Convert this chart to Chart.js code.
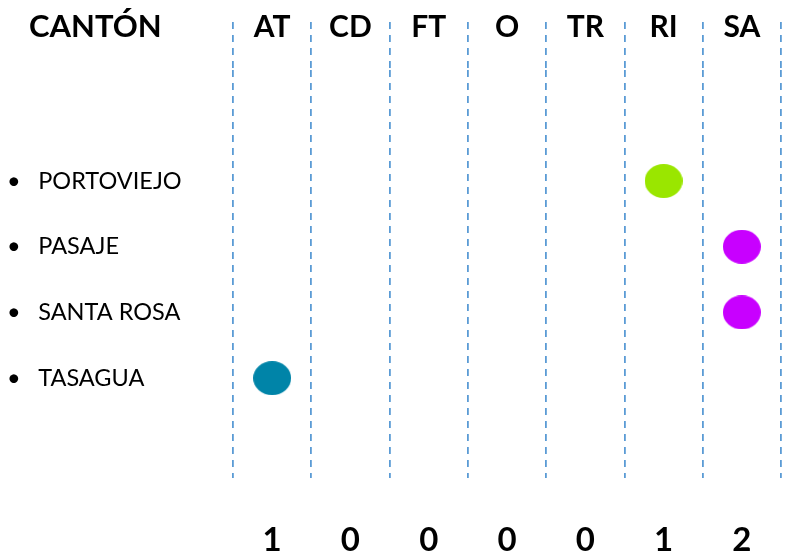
<!DOCTYPE html>
<html lang="es">
<head>
  <meta charset="UTF-8">
  <title>Cantones</title>
  <script src="https://cdn.jsdelivr.net/npm/chart.js"></script>
  <style>
    body { margin: 0; background: #fff; }
    canvas { display: block; }
  </style>
</head>
<body>
  <canvas id="grafico" width="785" height="553"></canvas>

  <script>
    // datos
    const titulo = 'CANTÓN';
    const columnas = ['AT', 'CD', 'FT', 'O', 'TR', 'RI', 'SA'];
    const totales = [1, 0, 0, 0, 0, 1, 2];
    const cantones = ['PORTOVIEJO', 'PASAJE', 'SANTA ROSA', 'TASAGUA'];
    const columnaCanton = ['RI', 'SA', 'SA', 'AT'];
    const colorCanton = ['#9ae600', '#c800ff', '#c800ff', '#0084a8'];

    const azul = '#5b9bd5';
    const fuente = 'Lato, "Open Sans", sans-serif';

    // punto ovalado como en el original
    function ovalo(color) {
      const c = document.createElement('canvas');
      c.width = 38; c.height = 34;
      const g = c.getContext('2d');
      g.fillStyle = color;
      g.beginPath();
      g.ellipse(19, 17, 19, 17, 0, 0, Math.PI * 2);
      g.fill();
      return c;
    }
    const ovalos = colorCanton.map(ovalo);

    const cabecera = {
      id: 'cabecera',
      afterDraw(chart) {
        const x = chart.scales.x;
        const o = x.options;
        const y = x.bottom - o.grid.tickLength - o.ticks.padding - o.ticks.font.size * 1.2 / 2;
        const ctx = chart.ctx;
        ctx.save();
        ctx.font = 'bold 31px ' + fuente;
        ctx.fillStyle = '#000';
        ctx.textBaseline = 'middle';
        ctx.fillText(titulo, 29, y);
        ctx.restore();
      }
    };

    const sinRelleno = s => { s.paddingLeft = 0; s.paddingRight = 0; };

    const ctx = document.getElementById('grafico').getContext('2d');
    new Chart(ctx, {
      type: 'scatter',
      data: {
        labels: columnas,
        datasets: [{
          data: cantones.map((c, i) => ({ x: columnaCanton[i], y: i })),
          pointStyle: c => ovalos[c.dataIndex],
          backgroundColor: colorCanton,
          borderWidth: 0
        }]
      },
      plugins: [cabecera],
      options: {
        responsive: false,
        animation: false,
        layout: { padding: { left: 7, right: 2, top: 0, bottom: 0 } },
        plugins: { legend: { display: false }, tooltip: { enabled: false } },
        scales: {
          x: {
            type: 'category',
            position: 'top',
            offset: true,
            grid: {
              offset: true,
              color: azul,
              lineWidth: 1.8,
              drawTicks: true,
              tickLength: 48,
              tickColor: azul,
              tickWidth: 1.8,
              tickBorderDash: [7, 6]
            },
            border: { display: false, dash: [7, 6] },
            ticks: {
              color: '#000',
              font: { family: fuente, size: 30, weight: 'bold' },
              padding: -23,
              maxRotation: 0
            },
            afterFit: s => { s.height = 70; sinRelleno(s); }
          },
          x2: {
            type: 'category',
            position: 'bottom',
            offset: true,
            grid: { display: false },
            border: { display: false },
            ticks: {
              color: '#000',
              font: { family: fuente, size: 33, weight: 'bold' },
              padding: 35,
              maxRotation: 0,
              callback: (v, i) => String(totales[i])
            },
            afterFit: s => { s.height = 75; sinRelleno(s); }
          },
          y: {
            type: 'linear',
            reverse: true,
            min: -1.69,
            max: 4.52,
            grid: { display: false },
            border: { display: false },
            afterBuildTicks: s => { s.ticks = cantones.map((c, i) => ({ value: i })); },
            ticks: {
              color: '#000',
              crossAlign: 'far',
              font: { family: fuente, size: 23.5 },
              callback: v => '•\u2003' + cantones[v]
            },
            afterFit: s => { s.width = 226; }
          }
        }
      }
    });
  </script>
</body>
</html>
